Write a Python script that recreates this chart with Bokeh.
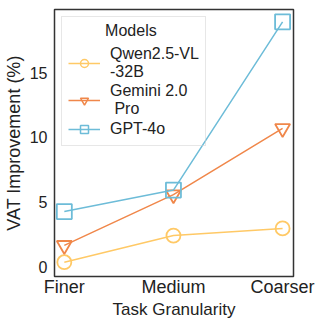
from bokeh.plotting import figure
from bokeh.models import ColumnDataSource, Legend, LegendItem, FixedTicker, Range1d, Label
from bokeh.embed import file_html
from bokeh.resources import INLINE

categories = ["Finer", "Medium", "Coarser"]
x_pos = [0, 1, 2]
qwen = [0.4, 2.45, 3.0]
gemini = [1.7, 5.6, 10.7]
gpt4o = [4.3, 5.95, 18.9]
series_names = ["Qwen2.5-VL\n-32B", "Gemini 2.0\n Pro", "GPT-4o"]
colors = ["#FFC966", "#F0874A", "#6DBCD8"]
y_ticks = [0, 5, 10, 15]
legend_title = "Models"

FONT = "Liberation Sans"

p = figure(width=324, height=324, output_backend="svg", toolbar_location=None,
           x_range=Range1d(-0.09, 2.1), y_range=Range1d(-0.7, 19.85),
           min_border_left=52, min_border_right=31, min_border_top=9, min_border_bottom=48)

p.grid.visible = False
p.outline_line_color = "#333333"
p.outline_line_width = 1.5
p.background_fill_color = "white"

p.xaxis.ticker = FixedTicker(ticks=x_pos)
p.xaxis.major_label_overrides = {i: c for i, c in zip(x_pos, categories)}
p.yaxis.ticker = FixedTicker(ticks=y_ticks)
for ax in (p.xaxis, p.yaxis):
    ax.axis_line_color = None
    ax.major_tick_line_color = None
    ax.minor_tick_line_color = None
    ax.major_tick_out = 0
    ax.major_tick_in = 0
    ax.major_label_text_font = FONT
    ax.axis_label_text_font = FONT
    ax.axis_label_text_font_style = "normal"
    ax.axis_label_text_color = "#222222"
    ax.major_label_text_color = "#222222"
p.xaxis.axis_label_text_font_size = "17px"
p.yaxis.axis_label_text_font_size = "18px"
p.xaxis.major_label_text_font_size = "18px"
p.yaxis.major_label_text_font_size = "16px"
p.xaxis.major_label_standoff = 0
p.yaxis.major_label_standoff = 7
p.xaxis.axis_label = "Task Granularity"
p.yaxis.axis_label = "VAT Improvement (%)"
p.xaxis.axis_label_standoff = 0
p.yaxis.axis_label_standoff = 3

markers = ["circle", "inverted_triangle", "square"]
sizes = [14, 15, 15]
data = [qwen, gemini, gpt4o]
items = []
for name, vals, col, mk, sz in zip(series_names, data, colors, markers, sizes):
    src = ColumnDataSource(dict(x=x_pos, y=vals))
    ln = p.line("x", "y", source=src, line_color=col, line_width=1.5)
    p.scatter("x", "y", source=src, marker=mk, size=sz, fill_color=None,
              line_color=col, line_width=1.8)
    leg = p.scatter(x=[float("nan")], y=[float("nan")], marker=mk, size=8,
                    fill_color=None, line_color=col, line_width=1.5)
    items.append(LegendItem(label=name, renderers=[ln, leg]))

legend = Legend(items=items, location="top_left", title=" ",
                title_text_font=FONT, title_text_font_size="16px",
                title_text_font_style="normal", title_text_color="#222222",
                title_standoff=4,
                label_text_font=FONT, label_text_font_size="16px",
                label_text_color="#222222", label_text_line_height=1.15,
                border_line_color="#d0d0d0", border_line_width=1,
                background_fill_alpha=0, margin=7, padding=6, spacing=1,
                glyph_width=32, glyph_height=20, label_height=20,
                label_standoff=10, title_location="above")
p.add_layout(legend)

p.add_layout(Label(x=0.61, y=18.25, text=legend_title, text_align="center",
                   text_baseline="middle", text_font=FONT, text_font_size="16px",
                   text_color="#222222"))

open("out.html", "w").write(file_html(p, INLINE))
